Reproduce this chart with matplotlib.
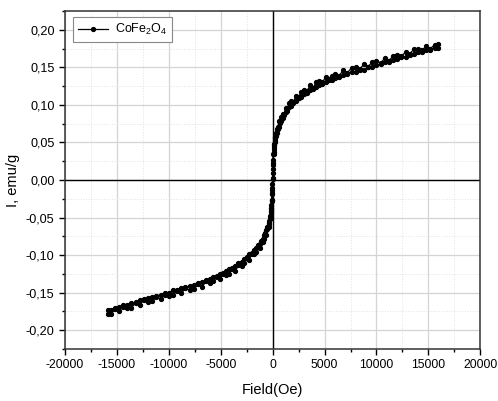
import numpy as np
import matplotlib
matplotlib.use("Agg")
import matplotlib.pyplot as plt
from matplotlib.ticker import MultipleLocator, FuncFormatter

plt.rcParams['font.family'] = ['Liberation Sans', 'DejaVu Sans']
plt.rcParams['mathtext.default'] = 'regular'
plt.rcParams['axes.unicode_minus'] = False

# field grid (Oe) for the positive and negative halves
field_pos = [0, 20, 40, 60, 90, 120, 160, 200, 260, 330,
             400, 500, 600, 700, 800, 950, 1100, 1250, 1400, 1600,
             1800, 2000, 2250, 2500, 2750, 3000, 3300, 3600, 3900, 4200,
             4500, 4800, 5100, 5400, 5700, 6000, 6400, 6800, 7200, 7600,
             8000, 8400, 8800, 9200, 9600, 10000, 10400, 10800, 11200, 11600,
             12000, 12400, 12800, 13200, 13600, 14000, 14400, 14800, 15200, 15600,
             15900]
field_neg = [-0, -20, -40, -60, -90, -120, -160, -200, -260, -330,
             -400, -500, -600, -700, -800, -950, -1100, -1250, -1400, -1600,
             -1800, -2000, -2250, -2500, -2750, -3000, -3300, -3600, -3900, -4200,
             -4500, -4800, -5100, -5400, -5700, -6000, -6400, -6800, -7200, -7600,
             -8000, -8400, -8800, -9200, -9600, -10000, -10400, -10800, -11200, -11600,
             -12000, -12400, -12800, -13200, -13600, -14000, -14400, -14800, -15200, -15600,
             -15900]

# magnetisation (emu/g), two sweeps
pos_a = [0.002, 0.015, 0.023, 0.034, 0.037, 0.046, 0.048, 0.056, 0.057, 0.063,
         0.068, 0.070, 0.078, 0.077, 0.084, 0.088, 0.088, 0.096, 0.094, 0.102,
         0.105, 0.104, 0.112, 0.110, 0.117, 0.120, 0.118, 0.126, 0.123, 0.130,
         0.132, 0.130, 0.137, 0.134, 0.139, 0.141, 0.139, 0.146, 0.143, 0.149,
         0.150, 0.148, 0.154, 0.151, 0.157, 0.158, 0.156, 0.162, 0.159, 0.165,
         0.167, 0.165, 0.170, 0.168, 0.174, 0.175, 0.173, 0.178, 0.175, 0.180,
         0.181]
pos_b = [-0.001, 0.009, 0.020, 0.027, 0.035, 0.041, 0.044, 0.050, 0.053, 0.059,
         0.062, 0.068, 0.071, 0.076, 0.078, 0.083, 0.086, 0.090, 0.092, 0.097,
         0.099, 0.103, 0.105, 0.109, 0.111, 0.115, 0.116, 0.120, 0.121, 0.124,
         0.127, 0.128, 0.130, 0.133, 0.133, 0.136, 0.137, 0.140, 0.141, 0.144,
         0.144, 0.147, 0.147, 0.150, 0.151, 0.153, 0.154, 0.157, 0.157, 0.160,
         0.161, 0.164, 0.164, 0.167, 0.168, 0.170, 0.171, 0.173, 0.173, 0.176,
         0.176]
neg_a = [-0.001, -0.011, -0.017, -0.026, -0.028, -0.038, -0.041, -0.050, -0.052, -0.058,
         -0.063, -0.065, -0.073, -0.072, -0.079, -0.083, -0.083, -0.091, -0.089, -0.096,
         -0.099, -0.098, -0.106, -0.104, -0.111, -0.114, -0.113, -0.121, -0.119, -0.125,
         -0.127, -0.125, -0.132, -0.129, -0.135, -0.137, -0.135, -0.142, -0.139, -0.145,
         -0.147, -0.144, -0.151, -0.148, -0.153, -0.155, -0.153, -0.158, -0.156, -0.161,
         -0.163, -0.160, -0.166, -0.164, -0.170, -0.171, -0.169, -0.174, -0.172, -0.178,
         -0.179]
neg_b = [0.001, -0.005, -0.014, -0.019, -0.026, -0.033, -0.037, -0.044, -0.048, -0.054,
         -0.057, -0.063, -0.066, -0.071, -0.073, -0.078, -0.081, -0.085, -0.087, -0.091,
         -0.093, -0.097, -0.099, -0.103, -0.105, -0.109, -0.111, -0.115, -0.117, -0.119,
         -0.121, -0.124, -0.125, -0.128, -0.129, -0.132, -0.133, -0.136, -0.137, -0.140,
         -0.141, -0.143, -0.144, -0.147, -0.147, -0.150, -0.151, -0.153, -0.154, -0.156,
         -0.157, -0.159, -0.160, -0.163, -0.164, -0.166, -0.167, -0.169, -0.170, -0.173,
         -0.173]

# sweep down from +H to -H, then back up
x = list(reversed(field_pos)) + field_neg[1:] + list(reversed(field_neg)) + field_pos[1:]
y = list(reversed(pos_a)) + neg_a[1:] + list(reversed(neg_b)) + pos_b[1:]

fig = plt.figure(figsize=(4.98, 4.01), dpi=100)
ax = fig.add_axes([0.1305, 0.1297, 0.834, 0.843])

ax.plot(x, y, color='black', lw=0.9, marker='o', ms=2.8, label='CoFe$_2$O$_4$', zorder=3)

ax.set_xlim(-20000, 20000)
ax.set_ylim(-0.225, 0.225)
ax.xaxis.set_major_locator(MultipleLocator(5000))
ax.xaxis.set_minor_locator(MultipleLocator(2500))
ax.yaxis.set_major_locator(MultipleLocator(0.05))
ax.yaxis.set_minor_locator(MultipleLocator(0.025))
ax.yaxis.set_major_formatter(FuncFormatter(lambda v, p: ('%.2f' % v).replace('.', ',').replace('-0,00', '0,00')))

ax.grid(which='major', color='#d4d4d4', lw=0.9, ls='-')
ax.grid(which='minor', color='#e2e2e2', lw=0.7, ls=':')
ax.set_axisbelow(True)

ax.axhline(0, color='black', lw=1.0, zorder=2)
ax.axvline(0, color='black', lw=1.0, zorder=2)

ax.tick_params(which='both', direction='out', top=False, right=False, labelsize=9.1)
ax.tick_params(axis='x', labelsize=8.8)
ax.tick_params(which='major', length=4, width=1)
ax.tick_params(which='minor', length=2.5, width=1)
for s in ax.spines.values():
    s.set_color('#333333')
    s.set_linewidth(1.1)

ax.set_xlabel('Field(Oe)', fontsize=10.5, labelpad=8)
ax.set_ylabel('I, emu/g', fontsize=10.5, labelpad=4)

leg = ax.legend(loc='upper left', fontsize=9, fancybox=False, edgecolor='#888888',
                framealpha=1, handlelength=2.4, borderpad=0.4, handletextpad=0.5,
                bbox_to_anchor=(0.005, 1.0))
leg.get_frame().set_linewidth(0.8)

fig.savefig('out.png', dpi=100)
